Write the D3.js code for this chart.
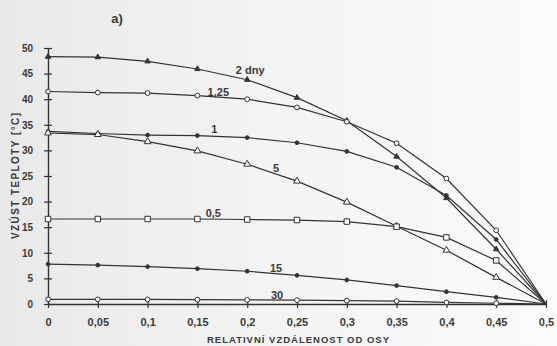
<!DOCTYPE html>
<html>
<head>
<meta charset="utf-8">
<script src="https://cdn.jsdelivr.net/npm/d3@7"></script>
<style>
  body { margin: 0; background: #fff; overflow: hidden; }
  svg { display: block; }
  svg text { font-family: Arial, "Liberation Sans", sans-serif; fill: #3a3a3a; }
</style>
</head>
<body>
<div id="chart"></div>
<script>
// relative distance from axis
const distances = [0, 0.05, 0.1, 0.15, 0.2, 0.25, 0.3, 0.35, 0.4, 0.45, 0.5];
const xTickLabels = ["0", "0,05", "0,1", "0,15", "0,2", "0,25", "0,3", "0,35", "0,4", "0,45", "0,5"];
const yTicks = [0, 5, 10, 15, 20, 25, 30, 35, 40, 45, 50];

// temperature rise per time (days)
const rise2 = [48.3, 48.2, 47.4, 45.9, 43.8, 40.3, 35.8, 28.8, 20.7, 10.7, 0];
const rise125 = [41.5, 41.3, 41.2, 40.7, 40.0, 38.4, 35.6, 31.4, 24.5, 14.4, 0];
const rise1 = [33.7, 33.3, 33.0, 32.9, 32.5, 31.5, 29.8, 26.7, 21.2, 12.6, 0];
const rise5 = [33.4, 33.1, 31.7, 29.9, 27.3, 24.0, 19.9, 15.2, 10.5, 5.2, 0];
const rise05 = [16.6, 16.6, 16.6, 16.6, 16.5, 16.4, 16.1, 15.1, 13.0, 8.5, 0];
const rise15 = [7.8, 7.6, 7.3, 6.9, 6.4, 5.6, 4.7, 3.6, 2.4, 1.3, 0];
const rise30 = [0.9, 0.9, 0.9, 0.85, 0.8, 0.75, 0.65, 0.55, 0.3, 0.15, 0];

const series = [
  { name: "2 dny", values: rise2, marker: "triFilled", labelX: 0.203, dy: -7 },
  { name: "1,25", values: rise125, marker: "circle", labelX: 0.171, dy: -1 },
  { name: "1", values: rise1, marker: "dot", labelX: 0.167, dy: -3 },
  { name: "5", values: rise5, marker: "tri", labelX: 0.229, dy: -2 },
  { name: "0,5", values: rise05, marker: "square", labelX: 0.166, dy: -2 },
  { name: "15", values: rise15, marker: "dot", labelX: 0.229, dy: -2 },
  { name: "30", values: rise30, marker: "circle", labelX: 0.23, dy: -1 },
];

const width = 557, height = 346;
const margin = { top: 48, right: 11, bottom: 42, left: 48 };
const innerWidth = width - margin.left - margin.right;
const innerHeight = height - margin.top - margin.bottom;
const ink = "#333";

const svg = d3.select("#chart").append("svg")
  .attr("width", width)
  .attr("height", height);

// scanned-paper shading
const grad = svg.append("defs").append("linearGradient")
  .attr("id", "paper").attr("x1", "0").attr("x2", "1").attr("y1", "0").attr("y2", "0");
grad.append("stop").attr("offset", "0").attr("stop-color", "#e9e9e9");
grad.append("stop").attr("offset", "0.45").attr("stop-color", "#f3f3f3");
grad.append("stop").attr("offset", "1").attr("stop-color", "#fbfbfb");
svg.append("rect").attr("width", width).attr("height", height).attr("fill", "url(#paper)");

const g = svg.append("g").attr("transform", `translate(${margin.left},${margin.top})`);

const x = d3.scaleLinear().domain([0, 0.5]).range([0, innerWidth]);
const y = d3.scaleLinear().domain([0, 50]).range([innerHeight, 0]);

// axes
const xAxis = d3.axisBottom(x)
  .tickValues(distances)
  .tickFormat((d, i) => xTickLabels[i])
  .tickSizeInner(4)
  .tickSizeOuter(0)
  .tickPadding(10);
const xg = g.append("g").attr("transform", `translate(0,${innerHeight})`).call(xAxis);

const yAxis = d3.axisLeft(y)
  .tickValues(yTicks)
  .tickSizeInner(4)
  .tickSizeOuter(0)
  .tickPadding(11);
const yg = g.append("g").call(yAxis);

[xg, yg].forEach((ax) => {
  ax.attr("font-family", null).attr("font-size", null);
  ax.select(".domain").attr("stroke", ink).attr("stroke-width", 1.4);
  ax.selectAll(".tick line").attr("stroke", ink).attr("stroke-width", 1.2);
  ax.selectAll("text").attr("font-weight", "bold").attr("fill", "#3a3a3a");
});
xg.selectAll("text").attr("font-size", 11);
yg.selectAll("text").attr("font-size", 10);
// ticks cross the axis
xg.selectAll(".tick line").attr("y1", -4);
yg.selectAll(".tick line").attr("x1", 4);

// lines
const line = d3.line()
  .x((d, i) => x(distances[i]))
  .y((d) => y(d));

series.forEach((s) => {
  g.append("path")
    .datum(s.values)
    .attr("fill", "none")
    .attr("stroke", ink)
    .attr("stroke-width", 1.2)
    .attr("d", line);
});

// markers
const symbols = {
  circle: { type: d3.symbolCircle, size: 18, fill: "#fff" },
  dot: { type: d3.symbolCircle, size: 11, fill: ink },
  tri: { type: d3.symbolTriangle, size: 20, fill: "#fff" },
  triFilled: { type: d3.symbolTriangle, size: 13, fill: ink },
  square: { type: d3.symbolSquare, size: 30, fill: "#fff" },
};

series.forEach((s) => {
  const m = symbols[s.marker];
  g.append("g")
    .selectAll("path")
    .data(s.values.slice(0, -1))
    .join("path")
    .attr("transform", (d, i) => `translate(${x(distances[i])},${y(d)})`)
    .attr("d", d3.symbol().type(m.type).size(m.size))
    .attr("fill", m.fill)
    .attr("stroke", ink)
    .attr("stroke-width", 1);
});

// series labels
series.forEach((s) => {
  const yAt = d3.scaleLinear().domain(distances).range(s.values)(s.labelX);
  g.append("text")
    .attr("x", x(s.labelX))
    .attr("y", y(yAt) + s.dy)
    .attr("text-anchor", "middle")
    .attr("font-size", 11)
    .attr("font-weight", "bold")
    .text(s.name);
});

// axis titles
svg.append("text")
  .attr("x", -176)
  .attr("y", 19)
  .attr("transform", "rotate(-90)")
  .attr("text-anchor", "middle")
  .attr("font-size", 10)
  .attr("font-weight", "bold")
  .attr("textLength", 126)
  .attr("lengthAdjust", "spacing")
  .text("VZÚST TEPLOTY  [°C]");

svg.append("text")
  .attr("x", 298)
  .attr("y", 343)
  .attr("text-anchor", "middle")
  .attr("font-size", 9.5)
  .attr("font-weight", "bold")
  .attr("fill", "#555")
  .attr("textLength", 182)
  .attr("lengthAdjust", "spacing")
  .text("RELATIVNÍ VZDÁLENOST OD OSY");

svg.append("text")
  .attr("x", 117)
  .attr("y", 23)
  .attr("text-anchor", "middle")
  .attr("font-size", 13)
  .attr("font-weight", "bold")
  .text("a)");
</script>
</body>
</html>
